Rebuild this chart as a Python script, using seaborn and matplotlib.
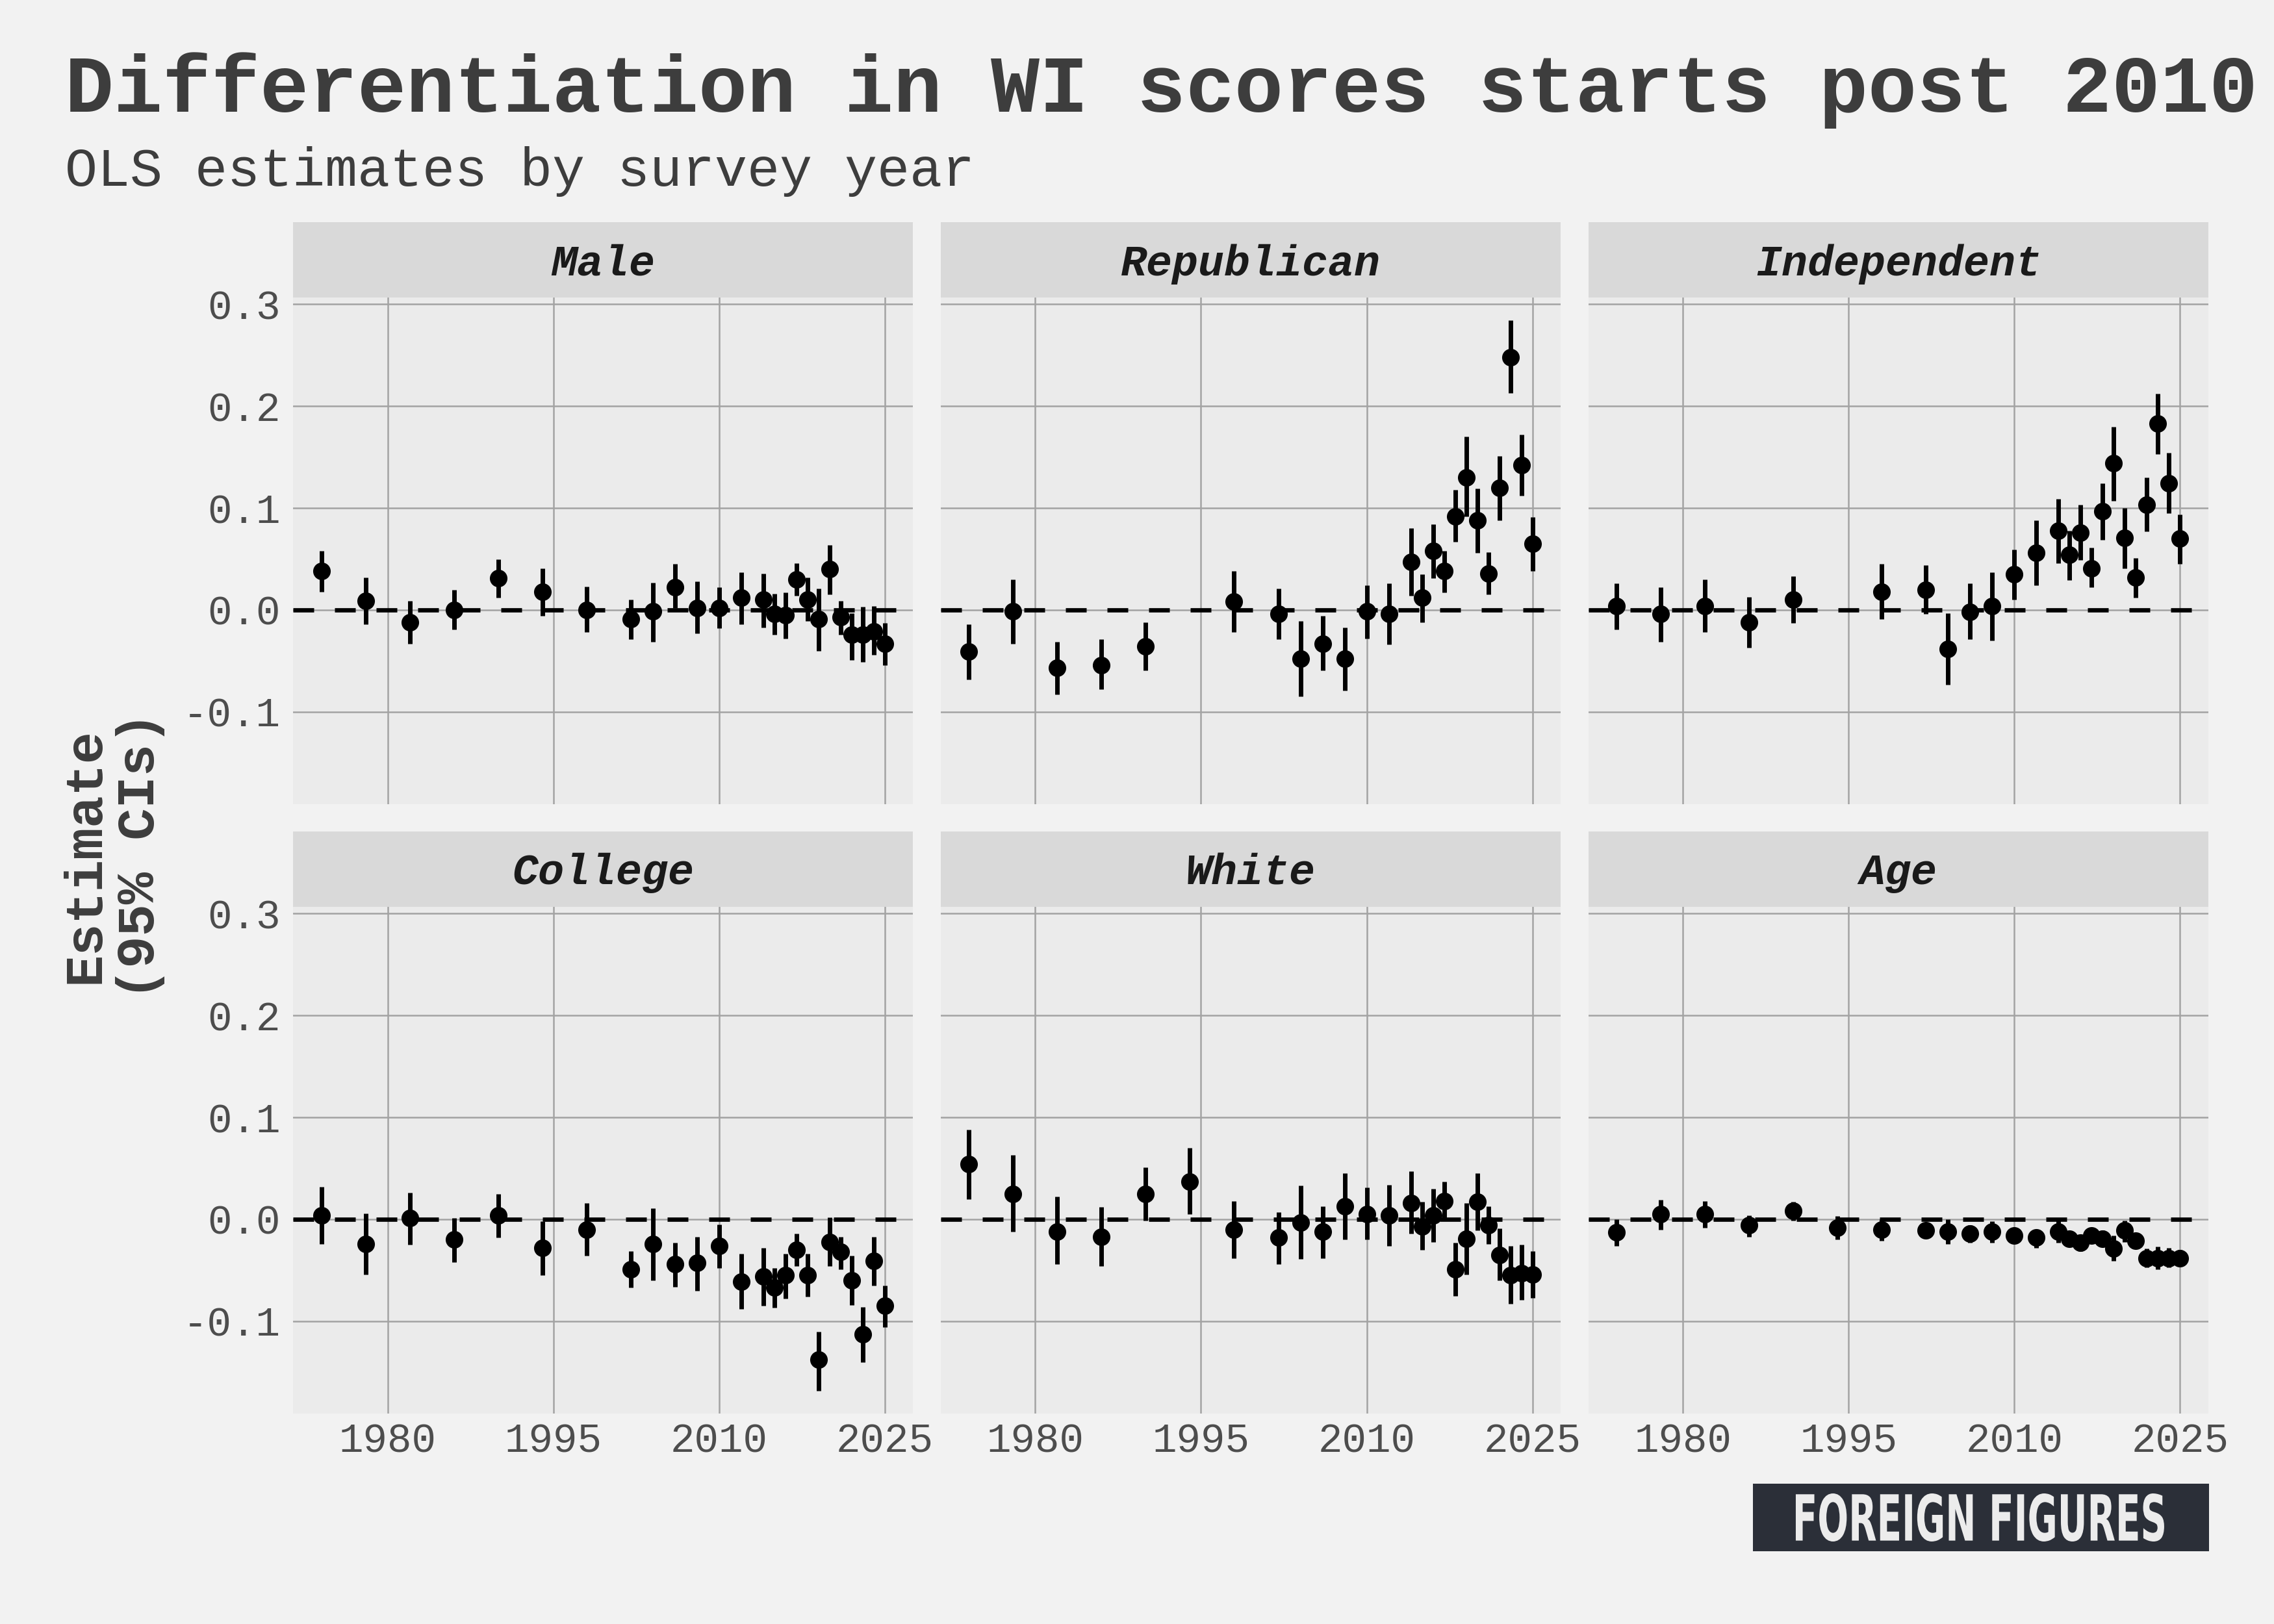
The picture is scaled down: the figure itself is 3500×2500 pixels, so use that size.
import pandas as pd
import seaborn as sns
import matplotlib.pyplot as plt
from matplotlib.patches import Rectangle, PathPatch
from matplotlib.textpath import TextPath
from matplotlib.font_manager import FontProperties
from matplotlib.transforms import Affine2D

# Survey years (Republican / Independent have no 1994 estimate)
years_full = [1974, 1978, 1982, 1986, 1990, 1994, 1998, 2002, 2004, 2006, 2008, 2010, 2012,
              2014, 2015, 2016, 2017, 2018, 2019, 2020, 2021, 2022, 2023, 2024, 2025]
years_no94 = [y for y in years_full if y != 1994]

terms = ["Male", "Republican", "Independent", "College", "White", "Age"]

male_est = [0.038, 0.009, -0.012, 0.000, 0.031, 0.018, 0.000, -0.009, -0.001, 0.022, 0.002, 0.002, 0.012,
            0.010, -0.004, -0.005, 0.030, 0.010, -0.009, 0.040, -0.007, -0.024, -0.024, -0.021, -0.033]
male_lo = [0.018, -0.014, -0.033, -0.019, 0.012, -0.006, -0.022, -0.029, -0.031, 0.002, -0.023, -0.018, -0.014,
           -0.017, -0.024, -0.028, 0.014, -0.011, -0.040, 0.015, -0.024, -0.049, -0.051, -0.044, -0.054]
male_hi = [0.058, 0.032, 0.009, 0.020, 0.050, 0.041, 0.023, 0.010, 0.027, 0.045, 0.028, 0.022, 0.037,
           0.036, 0.016, 0.017, 0.046, 0.032, 0.021, 0.064, 0.009, -0.003, 0.003, 0.004, -0.013]

rep_est = [-0.041, -0.001, -0.057, -0.054, -0.036, 0.008, -0.004, -0.048, -0.033, -0.048, -0.001, -0.004,
           0.047, 0.012, 0.058, 0.038, 0.092, 0.130, 0.088, 0.036, 0.120, 0.248, 0.142, 0.065]
rep_lo = [-0.068, -0.033, -0.083, -0.078, -0.059, -0.022, -0.029, -0.085, -0.059, -0.079, -0.028, -0.034,
          0.014, -0.012, 0.031, 0.017, 0.067, 0.092, 0.056, 0.015, 0.088, 0.213, 0.112, 0.038]
rep_hi = [-0.014, 0.030, -0.031, -0.029, -0.012, 0.038, 0.021, -0.011, -0.006, -0.017, 0.024, 0.026,
          0.080, 0.035, 0.084, 0.058, 0.118, 0.170, 0.119, 0.057, 0.151, 0.284, 0.172, 0.091]

ind_est = [0.004, -0.004, 0.004, -0.012, 0.010, 0.018, 0.020, -0.038, -0.002, 0.004, 0.035, 0.056,
           0.078, 0.054, 0.076, 0.041, 0.097, 0.144, 0.071, 0.032, 0.103, 0.183, 0.124, 0.070]
ind_lo = [-0.019, -0.031, -0.022, -0.037, -0.013, -0.009, -0.004, -0.073, -0.029, -0.030, 0.010, 0.024,
          0.046, 0.029, 0.049, 0.022, 0.069, 0.107, 0.041, 0.012, 0.077, 0.153, 0.095, 0.045]
ind_hi = [0.026, 0.022, 0.030, 0.013, 0.033, 0.045, 0.044, -0.003, 0.026, 0.037, 0.059, 0.088,
          0.109, 0.078, 0.103, 0.061, 0.124, 0.180, 0.100, 0.051, 0.130, 0.212, 0.154, 0.094]

col_est = [0.004, -0.024, 0.001, -0.020, 0.004, -0.028, -0.010, -0.049, -0.024, -0.044, -0.043, -0.026, -0.061,
           -0.056, -0.067, -0.055, -0.030, -0.055, -0.138, -0.022, -0.032, -0.060, -0.113, -0.041, -0.085]
col_lo = [-0.024, -0.054, -0.025, -0.042, -0.018, -0.055, -0.036, -0.067, -0.060, -0.066, -0.070, -0.048, -0.088,
          -0.085, -0.087, -0.078, -0.046, -0.076, -0.168, -0.046, -0.049, -0.084, -0.140, -0.065, -0.106]
col_hi = [0.032, 0.006, 0.026, 0.001, 0.025, -0.002, 0.016, -0.031, 0.011, -0.023, -0.017, -0.005, -0.034,
          -0.028, -0.048, -0.034, -0.014, -0.034, -0.110, 0.002, -0.017, -0.036, -0.086, -0.017, -0.065]

white_est = [0.054, 0.025, -0.012, -0.017, 0.025, 0.037, -0.010, -0.018, -0.003, -0.012, 0.013, 0.005, 0.004,
             0.016, -0.007, 0.004, 0.018, -0.049, -0.019, 0.017, -0.006, -0.035, -0.055, -0.053, -0.054]
white_lo = [0.020, -0.012, -0.044, -0.046, -0.001, 0.005, -0.038, -0.044, -0.039, -0.038, -0.020, -0.020, -0.026,
            -0.014, -0.030, -0.022, 0.000, -0.075, -0.054, -0.011, -0.024, -0.060, -0.083, -0.079, -0.077]
white_hi = [0.088, 0.063, 0.022, 0.012, 0.051, 0.070, 0.018, 0.007, 0.033, 0.013, 0.045, 0.031, 0.034,
            0.047, 0.017, 0.030, 0.037, -0.023, 0.016, 0.045, 0.013, -0.009, -0.026, -0.025, -0.031]

age_est = [-0.013, 0.005, 0.005, -0.006, 0.008, -0.008, -0.010, -0.011, -0.012, -0.014, -0.012, -0.016, -0.018,
           -0.012, -0.019, -0.023, -0.016, -0.019, -0.029, -0.011, -0.021, -0.038, -0.038, -0.038, -0.038]
age_lo = [-0.026, -0.010, -0.008, -0.017, -0.001, -0.020, -0.021, -0.018, -0.024, -0.023, -0.023, -0.023, -0.028,
          -0.023, -0.027, -0.031, -0.023, -0.027, -0.041, -0.022, -0.028, -0.047, -0.049, -0.047, -0.046]
age_hi = [0.000, 0.019, 0.018, 0.004, 0.017, 0.003, 0.000, -0.003, 0.000, -0.006, -0.002, -0.009, -0.010,
          -0.001, -0.012, -0.016, -0.008, -0.011, -0.016, -0.001, -0.014, -0.029, -0.027, -0.028, -0.030]

x_ticks = [1980, 1995, 2010, 2025]
y_ticks = [-0.1, 0.0, 0.1, 0.2, 0.3]

# Build long table
parts = []
for term, yrs, est, lo, hi in [
    ("Male", years_full, male_est, male_lo, male_hi),
    ("Republican", years_no94, rep_est, rep_lo, rep_hi),
    ("Independent", years_no94, ind_est, ind_lo, ind_hi),
    ("College", years_full, col_est, col_lo, col_hi),
    ("White", years_full, white_est, white_lo, white_hi),
    ("Age", years_full, age_est, age_lo, age_hi),
]:
    parts.append(pd.DataFrame({"term": term, "year": yrs, "estimate": est, "lo": lo, "hi": hi}))
df = pd.concat(parts, ignore_index=True)

BG = "#f2f2f2"
PANEL = "#ebebeb"
STRIP = "#d9d9d9"
MONO = "Liberation Mono"

sns.set_theme(style="darkgrid")
plt.rcParams["font.family"] = [MONO, "DejaVu Sans Mono"]
plt.rcParams["figure.facecolor"] = BG
plt.rcParams["axes.facecolor"] = PANEL


def draw_ci(data, color=None, **kws):
    ax = plt.gca()
    ax.axhline(0, color="black", lw=2.4, ls=(0, (4.8, 4.8)), zorder=2)
    ax.vlines(data["year"], data["lo"], data["hi"], color="black", lw=2.5,
              capstyle="butt", zorder=3)
    sns.scatterplot(data=data, x="year", y="estimate", ax=ax, color="black",
                    s=95, linewidth=0, zorder=4)


g = sns.FacetGrid(df, col="term", col_wrap=3, col_order=terms, sharex=True, sharey=True,
                  height=4, aspect=1.2)
g.map_dataframe(draw_ci)
g.set_titles("")
g.set_axis_labels("", "")

fig = g.figure
fig.set_size_inches(17.5, 12.5)
fig.subplots_adjust(left=0.1289, right=0.9711, top=0.8168, bottom=0.1296,
                    wspace=0.045, hspace=0.2026)

# ggplot-like expansion of the scales
ymin, ymax = df["lo"].min(), df["hi"].max()
ypad = (ymax - ymin) * 0.05
xmin, xmax = df["year"].min(), df["year"].max()
xpad = (xmax - xmin) * 0.05

strip_h = 0.1485
for ax, term in zip(g.axes.flat, terms):
    ax.set_xlim(xmin - xpad, xmax + xpad)
    ax.set_ylim(ymin - ypad, ymax + ypad)
    ax.set_xticks(x_ticks)
    ax.set_yticks(y_ticks)
    ax.grid(True, color="#a3a3a3", lw=0.9)
    ax.set_axisbelow(True)
    for s in ax.spines.values():
        s.set_visible(False)
    ax.tick_params(length=0, labelsize=22.5, labelcolor="#4d4d4d")
    ax.tick_params(axis="x", pad=5)
    ax.tick_params(axis="y", pad=7)
    ax.set_xlabel("")
    ax.set_ylabel("")
    ax.add_patch(Rectangle((0, 1), 1, strip_h, transform=ax.transAxes, clip_on=False,
                           facecolor=STRIP, edgecolor="none", zorder=1))
    ax.text(0.5, 1 + strip_h / 2 - 0.008, term, transform=ax.transAxes, ha="center", va="center",
            fontsize=24, fontweight="bold", fontstyle="italic", color="#1a1a1a")

for ax in g.axes.flat[::3]:
    ax.set_yticklabels([f"{v:.1f}" for v in y_ticks])
for ax in g.axes.flat[3:]:
    ax.set_xticklabels([str(v) for v in x_ticks])

fig.text(0.0286, 0.9312, "Differentiation in WI scores starts post 2010", fontsize=45,
         fontweight="bold", color="#3d3d3d", ha="left", va="baseline")
fig.text(0.0286, 0.8856, "OLS estimates by survey year", fontsize=30,
         color="#3d3d3d", ha="left", va="baseline")
fig.text(0.0497, 0.4732, "Estimate\n(95% CIs)", rotation=90, fontsize=29.5,
         fontweight="bold", color="#3d3d3d", ha="center", va="center", ma="center",
         linespacing=1.15)

# Logo box
fig.patches.append(Rectangle((0.7709, 0.0448), 0.2006, 0.0416, transform=fig.transFigure,
                             facecolor="#2b2f38", edgecolor="none", figure=fig))
tp = TextPath((0, 0), "FOREIGN FIGURES", size=10,
              prop=FontProperties(family="DejaVu Sans", weight="bold"))
bb = tp.get_extents()
x0, x1, y0, y1 = 0.7897, 0.9517, 0.0508, 0.0804
sx = (x1 - x0) / bb.width
sy = (y1 - y0) / bb.height
tr = Affine2D().scale(sx, sy).translate(x0 - bb.x0 * sx, y0 - bb.y0 * sy) + fig.transFigure
fig.patches.append(PathPatch(tp, transform=tr, facecolor="#ececec", edgecolor="none", figure=fig))

fig.savefig("out.png", dpi=200, facecolor=BG)
